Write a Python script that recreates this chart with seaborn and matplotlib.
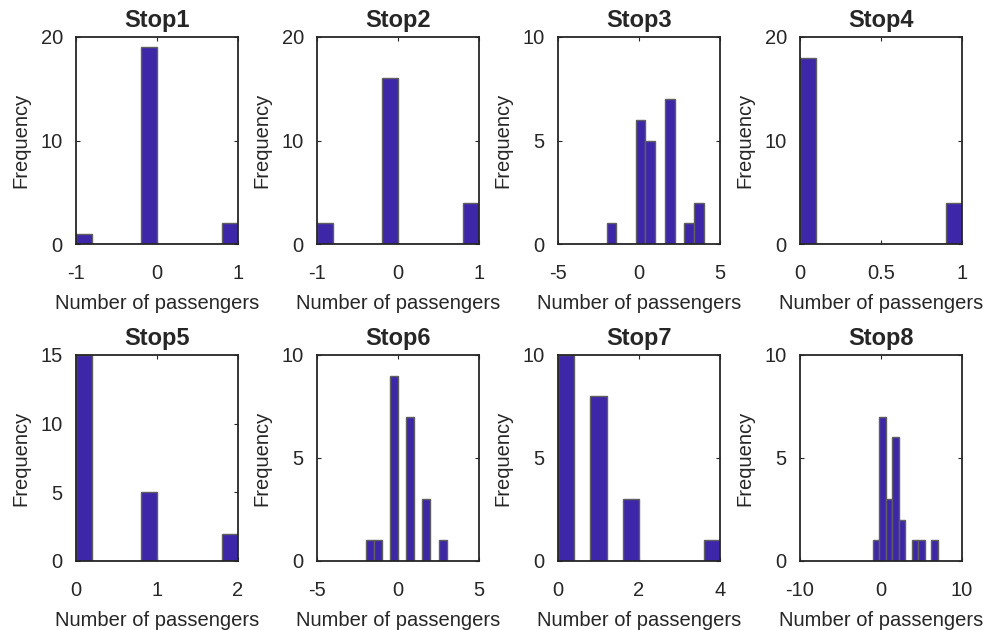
import numpy as np
import pandas as pd
import matplotlib
matplotlib.use("Agg")
import matplotlib.pyplot as plt
import seaborn as sns

# ---- data (10 bins per stop) ----
stops = ["Stop1", "Stop2", "Stop3", "Stop4", "Stop5", "Stop6", "Stop7", "Stop8"]
bin_low = [-1, -1, -2, 0, 0, -2, 0, -1]
bin_high = [1, 1, 4, 1, 2, 3, 4, 7]
counts_stop1 = [1, 0, 0, 0, 19, 0, 0, 0, 0, 2]
counts_stop2 = [2, 0, 0, 0, 16, 0, 0, 0, 0, 4]
counts_stop3 = [1, 0, 0, 6, 5, 0, 7, 0, 1, 2]
counts_stop4 = [18, 0, 0, 0, 0, 0, 0, 0, 0, 4]
counts_stop5 = [15, 0, 0, 0, 5, 0, 0, 0, 0, 2]
counts_stop6 = [1, 1, 0, 9, 0, 7, 0, 3, 0, 1]
counts_stop7 = [10, 0, 8, 0, 3, 0, 0, 0, 0, 1]
counts_stop8 = [1, 7, 3, 6, 2, 0, 1, 1, 0, 1]
counts = [counts_stop1, counts_stop2, counts_stop3, counts_stop4,
          counts_stop5, counts_stop6, counts_stop7, counts_stop8]
x_limits = [(-1, 1), (-1, 1), (-5, 5), (0, 1), (0, 2), (-5, 5), (0, 4), (-10, 10)]
x_ticks = [[-1, 0, 1], [-1, 0, 1], [-5, 0, 5], [0, 0.5, 1], [0, 1, 2], [-5, 0, 5], [0, 2, 4], [-10, 0, 10]]
x_ticklabels = [["-1", "0", "1"], ["-1", "0", "1"], ["-5", "0", "5"], ["0", "0.5", "1"],
                ["0", "1", "2"], ["-5", "0", "5"], ["0", "2", "4"], ["-10", "0", "10"]]
y_limits = [(0, 20), (0, 20), (0, 10), (0, 20), (0, 15), (0, 10), (0, 10), (0, 10)]
y_ticks = [[0, 10, 20], [0, 10, 20], [0, 5, 10], [0, 10, 20], [0, 5, 10, 15], [0, 5, 10], [0, 5, 10], [0, 5, 10]]

sns.set_theme(style="white")
plt.rcParams["font.family"] = ["Liberation Sans", "DejaVu Sans"]

fig = plt.figure(figsize=(9.9, 6.3), dpi=100)

W, H = 990, 630
lefts = [76, 317, 558, 800]
ax_w = 162
rows = [(37, 244), (355, 561)]

face = "#3E26A8"
edge = "#5f5f5f"
spine_c = "#262626"

for i, name in enumerate(stops):
    r, c = divmod(i, 4)
    top, bot = rows[r]
    ax = fig.add_axes([lefts[c] / W, 1 - bot / H, ax_w / W, (bot - top) / H])
    width = (bin_high[i] - bin_low[i]) / 10
    centers = bin_low[i] + width * (np.arange(10) + 0.5)
    df = pd.DataFrame({"x": centers, "w": np.asarray(counts[i], dtype=float)})
    sns.histplot(data=df, x="x", weights="w", bins=10,
                 binrange=(bin_low[i], bin_high[i]), ax=ax,
                 color=face, alpha=1.0, edgecolor=edge, linewidth=1.0)
    ax.set_xlim(*x_limits[i])
    ax.set_ylim(*y_limits[i])
    ax.set_xticks(x_ticks[i])
    ax.set_xticklabels(x_ticklabels[i])
    ax.set_yticks(y_ticks[i])
    ax.tick_params(direction="in", length=3, width=0.8, color=spine_c,
                   top=True, right=True, bottom=True, left=True,
                   labelsize=14.5, labelcolor="#262626")
    ax.tick_params(axis="x", pad=14.2)
    ax.tick_params(axis="y", pad=9.5)
    for s in ax.spines.values():
        s.set_color(spine_c)
        s.set_linewidth(1.3)
        s.set_visible(True)
    ax.set_title(name, fontsize=17, fontweight="bold", pad=7.5)
    ax.set_xlabel("Number of passengers", fontsize=14.5, color="#262626", labelpad=8)
    ax.set_ylabel("Frequency", fontsize=14.5, color="#262626", labelpad=7)

fig.savefig("out.png", dpi=100)
